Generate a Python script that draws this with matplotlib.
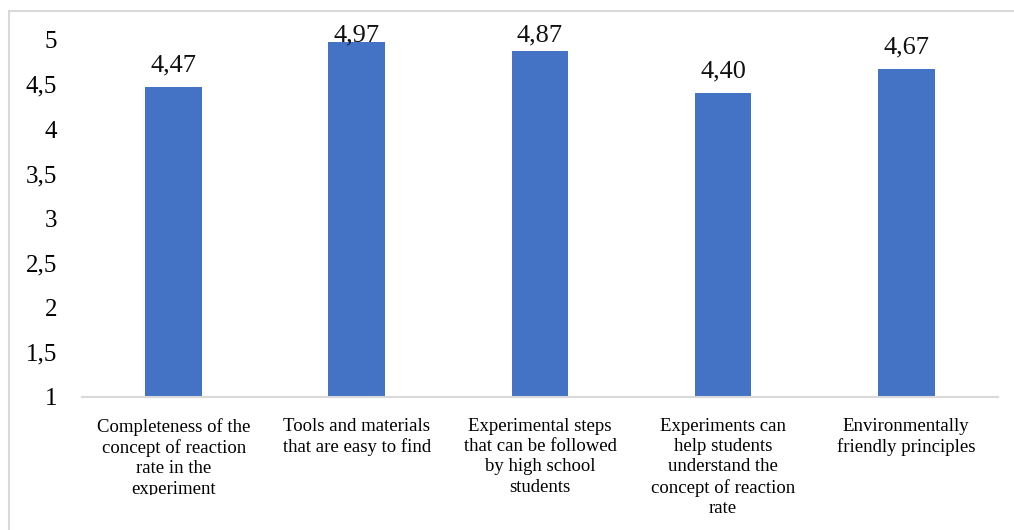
import matplotlib.pyplot as plt
from matplotlib.patches import Rectangle
from matplotlib.transforms import Bbox

categories = [
    "Completeness of the\nconcept of reaction\nrate in the\nexperiment",
    "Tools and materials\nthat are easy to find",
    "Experimental steps\nthat can be followed\nby high school\nstudents",
    "Experiments can\nhelp students\nunderstand the\nconcept of reaction\nrate",
    "Environmentally\nfriendly principles",
]
scores = [4.47, 4.97, 4.87, 4.40, 4.67]
y_ticks = [1, 1.5, 2, 2.5, 3, 3.5, 4, 4.5, 5]


def comma(v, digits):
    return f"{v:.{digits}f}".replace(".", ",")


plt.rcParams['font.family'] = ['Liberation Serif', 'DejaVu Serif']

W, H = 1014, 530
fig = plt.figure(figsize=(W / 100, H / 100), dpi=100)
ax = fig.add_axes([0.081, 0.251, 0.903, 0.674])

x = list(range(len(scores)))
base = 1
ax.bar(x, [s - base for s in scores], bottom=base, width=0.31, color='#4472C4')

ax.set_xlim(-0.5, len(scores) - 0.5)
ax.set_ylim(1, 5)

# value labels sit 16 px above the bar, but never higher than the chart frame allows
gap_px = 16
max_baseline = H - 41
for xi, s in zip(x, scores):
    px, py = ax.transData.transform((xi, s))
    base_y = min(py + gap_px, max_baseline)
    fig.text(px / W, base_y / H, comma(s, 2), ha='center', va='baseline',
             fontsize=19, color='#111111')

ax.set_yticks(y_ticks)
ax.set_yticklabels([comma(t, 1).rstrip('0').rstrip(',') for t in y_ticks], fontsize=18)
ax.set_xticks(x)
ax.set_xticklabels(categories, fontsize=13.5, va='top', linespacing=1.25)
ax.tick_params(axis='both', length=0)
ax.tick_params(axis='y', pad=18)
ax.tick_params(axis='x', pad=15)

# first category label box is cut short at the bottom
first = ax.get_xticklabels()[0]
first.set_clip_box(Bbox.from_extents(0, H - 495, W, H))
first.set_clip_on(True)

for side in ['top', 'right', 'left']:
    ax.spines[side].set_visible(False)
ax.spines['bottom'].set_color('#D9D9D9')
ax.spines['bottom'].set_linewidth(1.5)

# outer chart frame
fig.patches.append(Rectangle((9 / W, -0.1), 1.2, 1 - 11 / H + 0.1,
                             transform=fig.transFigure, fill=False,
                             edgecolor='#D9D9D9', linewidth=1.5))

fig.savefig('out.png', dpi=100)
